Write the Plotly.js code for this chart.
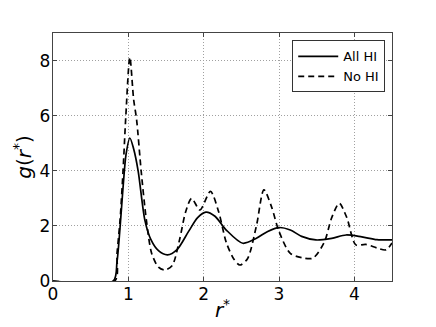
<!DOCTYPE html>
<html>
<head>
<meta charset="utf-8">
<script src="https://cdn.plot.ly/plotly-3.0.1.min.js"></script>
<style>
  html, body { margin: 0; padding: 0; background: #fff; }
  #graph { width: 436px; height: 327px; }
</style>
</head>
<body>
<div id="graph"></div>
<script>
// Radial distribution function
const rAll = [0, 0.8, 0.85, 0.9, 0.93, 0.97, 1.02, 1.07, 1.13, 1.22, 1.3, 1.4, 1.52, 1.65, 1.8, 1.92, 2.03, 2.15, 2.3, 2.52, 2.7, 2.85, 3.0, 3.15, 3.3, 3.49, 3.7, 3.89, 4.1, 4.3, 4.5];
const gAll = [0, 0, 0.7, 2.3, 3.4, 4.6, 5.19, 4.8, 4.0, 2.2, 1.5, 1.1, 0.95, 1.15, 1.8, 2.3, 2.5, 2.35, 1.85, 1.37, 1.55, 1.8, 1.94, 1.85, 1.62, 1.49, 1.55, 1.67, 1.6, 1.5, 1.49];

const rNo = [0, 0.82, 0.85, 0.89, 0.93, 0.967, 1.02, 1.07, 1.11, 1.17, 1.24, 1.31, 1.4, 1.48, 1.58, 1.68, 1.76, 1.84, 1.95, 2.09, 2.2, 2.3, 2.4, 2.48, 2.58, 2.7, 2.8, 2.9, 3.0, 3.15, 3.3, 3.45, 3.6, 3.7, 3.8, 3.9, 4.02, 4.15, 4.3, 4.42, 4.5];
const gNo = [0, 0, 1.0, 2.2, 4.0, 6.0, 8.12, 6.6, 5.85, 4.0, 2.2, 1.0, 0.5, 0.4, 0.55, 1.5, 2.5, 3.0, 2.58, 3.25, 2.5, 1.4, 0.8, 0.58, 0.8, 2.0, 3.31, 2.7, 1.8, 1.0, 0.85, 0.83, 1.4, 2.3, 2.82, 2.3, 1.31, 1.33, 1.2, 1.13, 1.38];

const xTicks = [0, 1, 2, 3, 4];
const yTicks = [0, 2, 4, 6, 8];

const font = 'DejaVu Sans, sans-serif';

const traces = [
  {
    x: rAll, y: gAll, name: 'All HI',
    type: 'scatter', mode: 'lines',
    line: { color: '#000', width: 1.7, shape: 'spline', smoothing: 0.8 }
  },
  {
    x: rNo, y: gNo, name: 'No HI',
    type: 'scatter', mode: 'lines',
    line: { color: '#000', width: 1.7, dash: '6px,4px', shape: 'spline', smoothing: 0.8 }
  }
];

const axisCommon = {
  showline: true, linecolor: '#444', linewidth: 1.2, mirror: 'ticks',
  ticks: 'inside', ticklen: 4, tickcolor: '#444',
  showgrid: true, gridcolor: '#a0a0a0', griddash: '1px,2px', gridwidth: 1,
  zeroline: false,
  tickfont: { family: font, size: 17, color: '#000' }
};

const layout = {
  width: 436, height: 327,
  margin: { l: 53, r: 44, t: 33, b: 46 },
  paper_bgcolor: '#fff', plot_bgcolor: '#fff',
  font: { family: font, color: '#000' },
  xaxis: Object.assign({}, axisCommon, {
    range: [0, 4.5], tickvals: xTicks, ticktext: xTicks.map(String),
    ticklabelstandoff: -3,
    title: { text: '<i>r</i><sup>*</sup>', font: { family: font, size: 20 }, standoff: 0 }
  }),
  yaxis: Object.assign({}, axisCommon, {
    range: [0, 9], tickvals: yTicks, ticktext: yTicks.map(String),
    ticklabelstandoff: -2,
    title: { text: '<i>g</i>(<i>r</i><sup>*</sup>)', font: { family: font, size: 20 }, standoff: 2 }
  }),
  showlegend: true,
  legend: {
    x: 0.98, y: 0.97, xanchor: 'right', yanchor: 'top',
    bgcolor: '#fff', bordercolor: '#333', borderwidth: 1,
    font: { family: font, size: 13 },
    itemwidth: 40
  }
};

Plotly.newPlot('graph', traces, layout, { displayModeBar: false, staticPlot: true });
</script>
</body>
</html>
